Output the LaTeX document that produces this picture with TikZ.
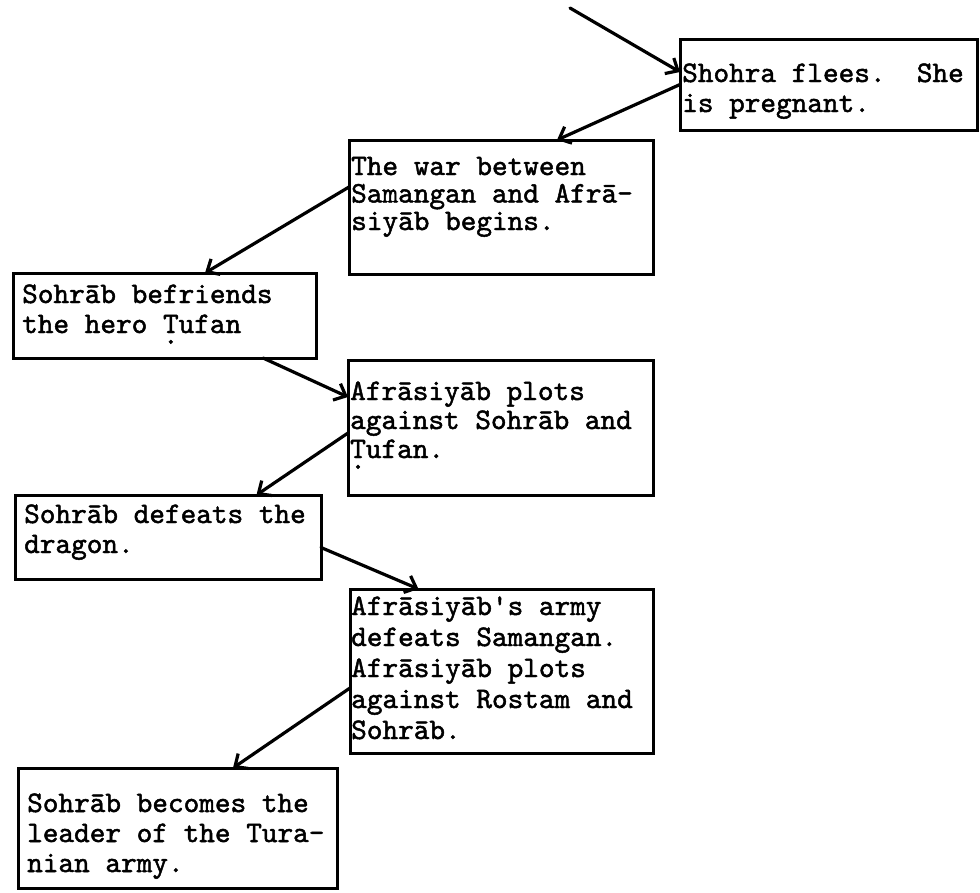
\documentclass[tikz,border=0pt]{standalone}
\usepackage{fontspec}
\setmonofont{lmmono10-regular.otf}[FakeBold=1.6]
\usetikzlibrary{arrows.meta}
% letter with a typewriter dot struck below it
\newcommand\udot[1]{\makebox[0pt][l]{\raisebox{-0.36em}{.}}#1}
% left-aligned stack of typed lines, baseline at the first line
\newcommand\typed[1]{\begin{tabular}[t]{@{}l@{}}#1\end{tabular}}
\begin{document}
\begin{tikzpicture}[x=1pt,y=-1pt,
  box/.style={draw, line width=3pt, anchor=north west, inner sep=0pt, outer sep=0pt},
  txt/.style={anchor=base west, inner sep=0pt, font=\ttfamily\fontsize{29.8}{#1}\selectfont},
  txt/.default=30,
  link/.style={line width=3.2pt, line cap=round, -{Straight Barb[length=10pt,width=18pt]}}]
\useasboundingbox (0,0) rectangle (980,892);

% event boxes
\node[box, minimum width=297pt, minimum height=91pt]  (b1) at (680,39) {};
\node[box, minimum width=304pt, minimum height=134pt] (b2) at (349,140) {};
\node[box, minimum width=303pt, minimum height=85pt]  (b3) at (13,273) {};
\node[box, minimum width=305pt, minimum height=135pt] (b4) at (348,360) {};
\node[box, minimum width=306pt, minimum height=84pt]  (b5) at (15,495) {};
\node[box, minimum width=303pt, minimum height=164pt] (b6) at (350,589) {};
\node[box, minimum width=319pt, minimum height=120pt] (b7) at (18,768) {};

% typed text of each event
\node[txt] (t1) at (682,82) {\typed{Shohra flees.\ \ She\\is pregnant.}};
\node[txt=27.5] (t2) at (351,175) {\typed{The war between\\Samangan and Afrā-\\siyāb begins.}};
\node[txt] (t3) at (22,303) {\typed{Sohrāb befriends\\the hero \udot{T}ufan}};
\node[txt=29] (t4) at (350,400) {\typed{Afrāsiyāb plots\\against Sohrāb and\\\udot{T}ufan.}};
\node[txt] (t5) at (24,523) {\typed{Sohrāb defeats the\\dragon.}};
\node[txt=31] (t6) at (351,615) {\typed{Afrāsiyāb's army\\defeats Samangan.\\Afrāsiyāb plots\\against Rostam and\\Sohrāb.}};
\node[txt] (t7) at (27,812) {\typed{Sohrāb becomes the\\leader of the Tura-\\nian army.}};

% connectors
\coordinate (s0) at (570,8);
\draw[link] (s0) -- ([yshift=12.5pt]b1.west);
\draw[link] (b1.west) -- ([xshift=56pt]b2.north);
\draw[link] ([yshift=20pt]b2.west) -- ([xshift=40.5pt]b3.north);
\draw[link] ([xshift=98.5pt]b3.south) -- ([yshift=30.5pt]b4.west);
\draw[link] ([yshift=-5.5pt]b4.west) -- ([xshift=88.5pt]b5.north);
\draw[link] ([yshift=-10.5pt]b5.east) -- ([xshift=-83pt]b6.north);
\draw[link] ([yshift=-17pt]b6.west) -- ([xshift=55.5pt]b7.north);
\end{tikzpicture}
\end{document}
